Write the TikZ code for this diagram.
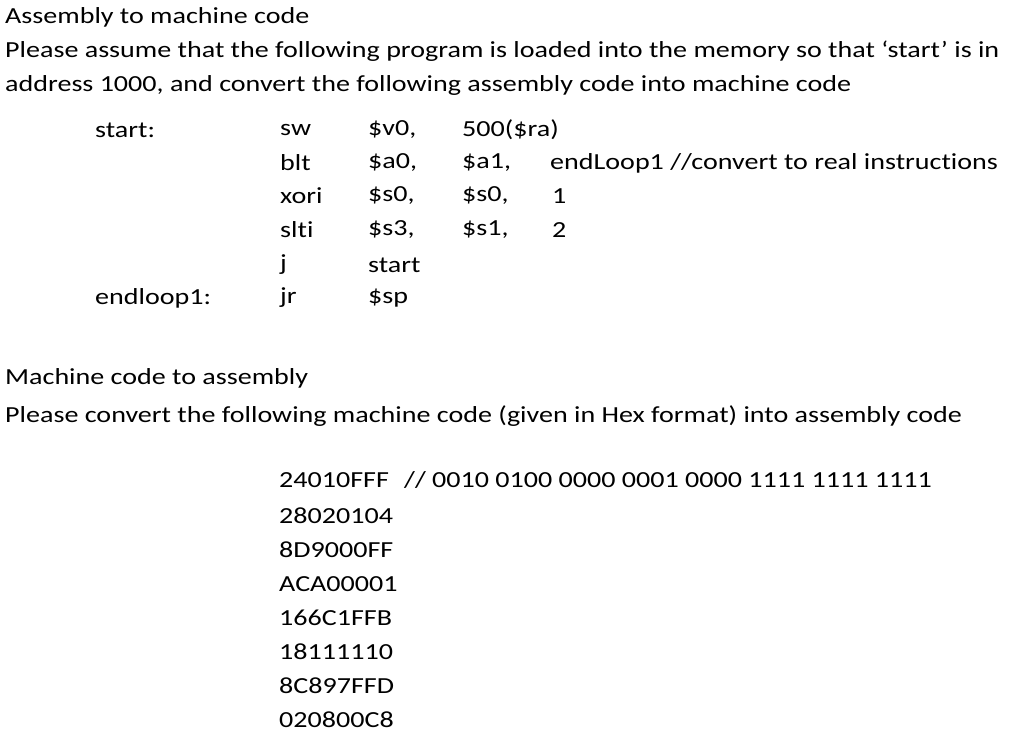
\documentclass[tikz,border=0pt]{standalone}
\usepackage{fontspec}
\usepackage{graphicx}
\setmainfont[Ligatures=NoCommon]{Carlito}
\newcommand{\sx}[1]{\scalebox{1.22}[1]{#1}}
\begin{document}
\begin{tikzpicture}[x=1pt,y=-1pt,t/.style={anchor=west,inner sep=0pt,font=\fontsize{23}{27}\selectfont}]
\useasboundingbox[fill=white] (0,0) rectangle (1024,743);
\node[t] (h1) at (5,17) {\sx{Assembly to machine code}};
\node[t] (p1) at (5,51) {\sx{Please assume that the following program is loaded into the memory so that ‘start’ is in}};
\node[t] (p2) at (5,85) {\sx{address 1000, and convert the following assembly code into machine code}};
\node[t] (l1) at (95,130) {\sx{start:}};
\node[t] (l2) at (95,298) {\sx{endloop1:}};
\node[t] (o1) at (280,130) {\sx{sw}};
\node[t] (r1) at (368,130) {\sx{\$v0,}};
\node[t] (s1) at (462,130) {\sx{500(\$ra)}};
\node[t] (o2) at (280,163) {\sx{blt}};
\node[t] (r2) at (368,163) {\sx{\$a0,}};
\node[t] (s2) at (462,163) {\sx{\$a1,}};
\node[t] (u2) at (550,163) {\sx{endLoop1 //convert to real instructions}};
\node[t] (o3) at (280,196) {\sx{xori}};
\node[t] (r3) at (368,196) {\sx{\$s0,}};
\node[t] (s3) at (462,196) {\sx{\$s0,}};
\node[t] (u3) at (552,196) {\sx{1}};
\node[t] (o4) at (280,230) {\sx{slti}};
\node[t] (r4) at (368,230) {\sx{\$s3,}};
\node[t] (s4) at (462,230) {\sx{\$s1,}};
\node[t] (u4) at (552,230) {\sx{2}};
\node[t] (o5) at (280,265) {\sx{j}};
\node[t] (r5) at (368,265) {\sx{start}};
\node[t] (o6) at (280,298) {\sx{jr}};
\node[t] (r6) at (368,298) {\sx{\$sp}};
\node[t] (h2) at (5,378) {\sx{Machine code to assembly}};
\node[t] (p3) at (5,416) {\sx{Please convert the following machine code (given in Hex format) into assembly code}};
\node[t] (x1) at (279,480) {\sx{24010FFF}};
\node[t] (x2) at (279,516) {\sx{28020104}};
\node[t] (x3) at (279,550) {\sx{8D9000FF}};
\node[t] (x4) at (279,584) {\sx{ACA00001}};
\node[t] (x5) at (279,618) {\sx{166C1FFB}};
\node[t] (x6) at (279,652) {\sx{18111110}};
\node[t] (x7) at (279,686) {\sx{8C897FFD}};
\node[t] (x8) at (279,720) {\sx{020800C8}};
\node[t] (cm) at (404,480) {\sx{// 0010 0100 0000 0001 0000 1111 1111 1111}};
\end{tikzpicture}
\end{document}
